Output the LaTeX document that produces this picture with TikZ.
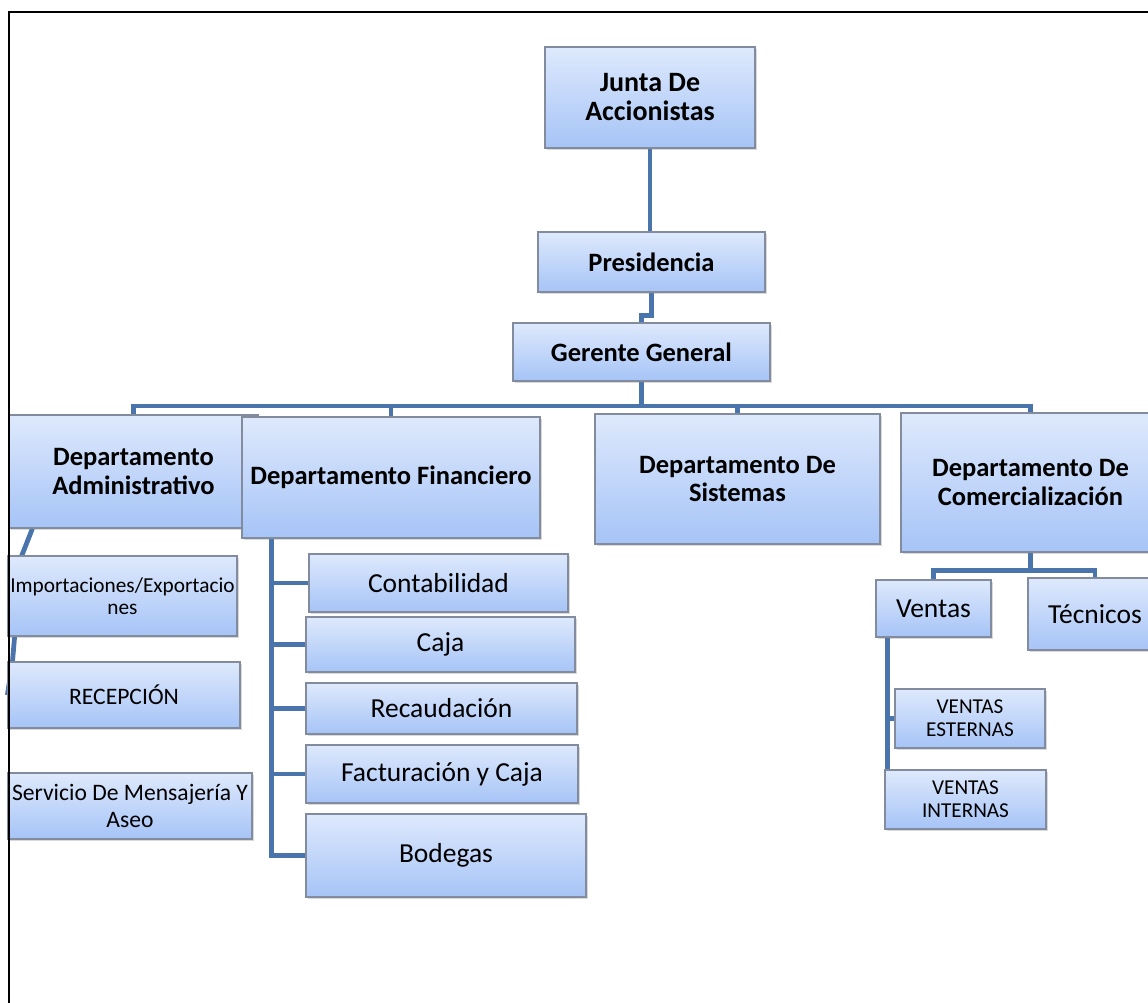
\documentclass[tikz,border=0pt]{standalone}
\usepackage{fontspec}
\setmainfont{Carlito}
\usepackage{tikz}
\usetikzlibrary{backgrounds,shadows}

\newcommand{\headfont}{\fontsize{26.5}{28.5}\selectfont\bfseries}
\newcommand{\topfont}{\fontsize{28}{29}\selectfont\bfseries}
\newcommand{\unitfont}{\fontsize{27.5}{30}\selectfont}
\newcommand{\minorfont}{\fontsize{23.6}{26.7}\selectfont}
\newcommand{\leaffont}{\fontsize{21.2}{23.3}\selectfont}

\definecolor{boxtop}{RGB}{222,233,252}
\definecolor{boxbot}{RGB}{166,196,247}
\definecolor{boxline}{RGB}{130,140,158}
\definecolor{linkblue}{RGB}{74,117,172}

\begin{document}
\begin{tikzpicture}[x=1pt, y=-1pt, box/.style={draw=boxline, line width=1.2pt, top color=boxtop, bottom color=boxbot, align=center, inner sep=0pt, drop shadow={shadow xshift=1.5pt, shadow yshift=-2pt, opacity=0.3}}, link/.style={draw=linkblue, line width=4.8pt}]
\useasboundingbox (0,0) rectangle (1148,1003);
% top of the chart
\node[box, minimum width=210pt, minimum height=101pt, font=\topfont] (junta) at (650,97.5) {Junta De\\Accionistas};
\node[box, minimum width=227pt, minimum height=60pt, font=\headfont] (pres) at (651.5,262) {Presidencia};
\node[box, minimum width=257pt, minimum height=58pt, font=\headfont] (gerente) at (641.5,352) {Gerente General};
% departments
\node[box, minimum width=249pt, minimum height=113pt, font=\headfont] (admin) at (133.5,471.5) {Departamento\\Administrativo};
\node[box, minimum width=298pt, minimum height=121pt, font=\headfont] (financ) at (391,477.5) {Departamento Financiero};
\node[box, minimum width=285pt, minimum height=130pt, font=\headfont] (sist) at (737.5,479) {Departamento De\\Sistemas};
\node[box, minimum width=259pt, minimum height=139pt, font=\headfont] (comerc) at (1030.5,482.5) {Departamento De\\Comercializaci\'on};
% administrative units
\node[box, minimum width=229pt, minimum height=80pt, font=\fontsize{21.3}{22}\selectfont] (impex) at (122.5,596) {Importaciones/Exportacio\\nes};
\node[box, minimum width=232pt, minimum height=66pt, font=\minorfont] (recep) at (124,695) {RECEPCI\'ON};
\node[box, minimum width=244pt, minimum height=66pt, font=\minorfont] (servicio) at (130,806) {Servicio De Mensajer\'ia Y\\Aseo};
% financial units
\node[box, minimum width=259pt, minimum height=58pt, font=\unitfont] (conta) at (438.5,583) {Contabilidad};
\node[box, minimum width=269pt, minimum height=55pt, font=\unitfont] (caja) at (440.5,644.5) {Caja};
\node[box, minimum width=271pt, minimum height=51pt, font=\unitfont] (recaud) at (441.5,708.5) {Recaudaci\'on};
\node[box, minimum width=272pt, minimum height=58pt, font=\unitfont] (factu) at (442,774) {Facturaci\'on y Caja};
\node[box, minimum width=280pt, minimum height=83pt, font=\unitfont] (bodeg) at (446,855.5) {Bodegas};
% sales units
\node[box, minimum width=115pt, minimum height=57pt, font=\unitfont] (ventas) at (933.5,608.5) {Ventas};
\node[box, minimum width=134pt, minimum height=72pt, font=\unitfont] (tecn) at (1095,614) {T\'ecnicos};
\node[box, minimum width=150pt, minimum height=59pt, font=\leaffont] (vext) at (970,718.5) {VENTAS\\ESTERNAS};
\node[box, minimum width=161pt, minimum height=59pt, font=\leaffont] (vint) at (965.5,799.5) {VENTAS\\INTERNAS};
\coordinate (bus) at (642,406);
\coordinate (ftrunk) at ([xshift=30pt]financ.south west);
\coordinate (vtrunk) at ([xshift=12pt]ventas.south west);
\begin{pgfonlayer}{background}
\draw[link] (junta.south) -- (junta.south |- pres.north); \draw[link] (pres.south) -- ++(0,23) -| (gerente.north);
\draw[link] (gerente.south) -- (gerente.south |- bus); \draw[link] (admin.north) |- (bus) -| (comerc.north);
\draw[link] (financ.north) -- (financ.north |- bus); \draw[link] (sist.north) -- (sist.north |- bus);
\draw[link] ([xshift=24pt]admin.south west) -- ++(-11,28) -- ++(-9,106) -- (recep.west);
\draw[link] (ftrunk) |- (bodeg.west); \draw[link] (ftrunk |- conta.west) -- (conta.west); \draw[link] (ftrunk |- caja.west) -- (caja.west); \draw[link] (ftrunk |- recaud.west) -- (recaud.west); \draw[link] (ftrunk |- factu.west) -- (factu.west);
\draw[link] (comerc.south) -- ++(0,18) coordinate (cfork); \draw[link] (ventas.north) |- (cfork) -| (tecn.north);
\draw[link] (vtrunk) |- (vint.west); \draw[link] (vtrunk |- vext.west) -- (vext.west);
\end{pgfonlayer}
% page frame
\draw[line width=2.5pt] (9,1003) -- (9,12) -- (1148,12);
\end{tikzpicture}
\end{document}
